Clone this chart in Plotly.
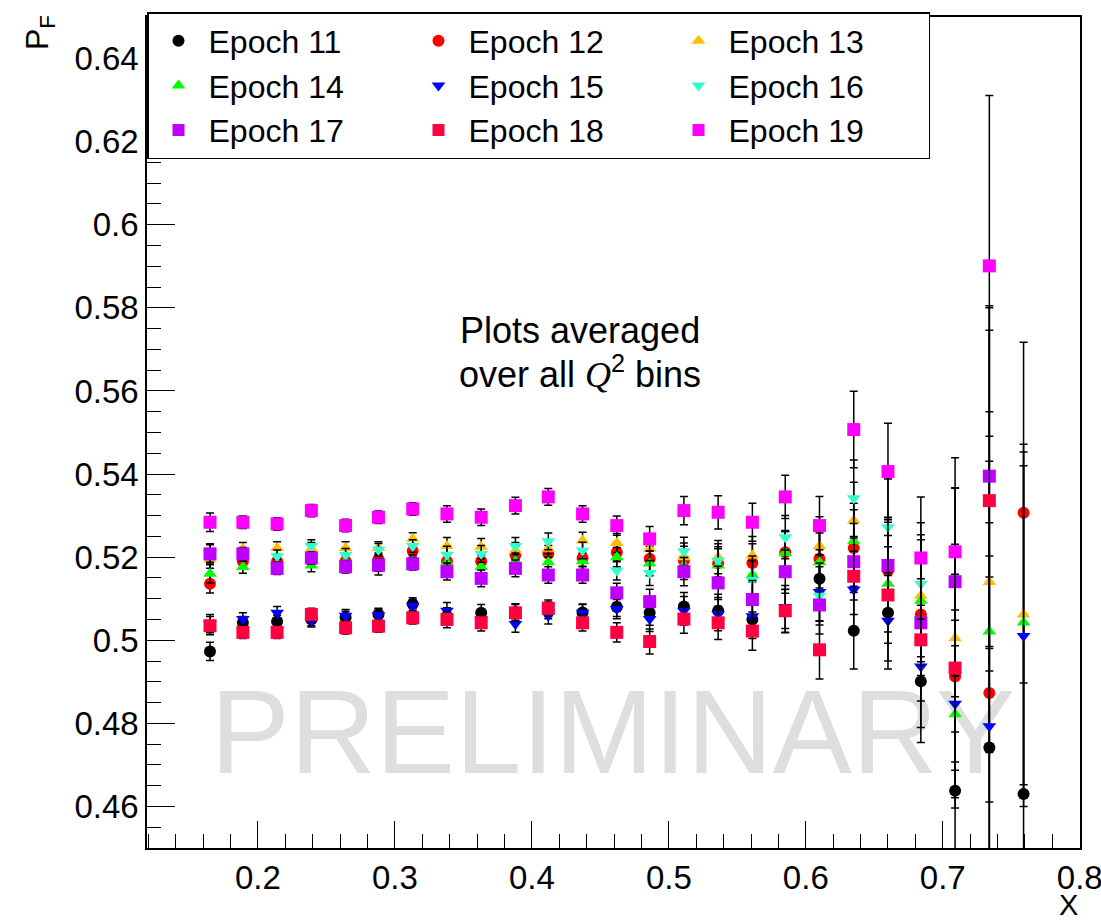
import plotly.graph_objects as go

# ---------------- data ----------------
x_bins = [0.165, 0.189, 0.214, 0.239, 0.264, 0.288, 0.313, 0.338, 0.363, 0.388,
          0.412, 0.437, 0.462, 0.486, 0.511, 0.536, 0.561, 0.585, 0.610, 0.635,
          0.660, 0.684, 0.709, 0.734, 0.759]

errors = [0.0022, 0.0015, 0.0015, 0.0015, 0.0015, 0.0015, 0.0015, 0.002, 0.002, 0.002,
          0.002, 0.002, 0.0023, 0.003, 0.0034, 0.004, 0.0046, 0.0052, 0.007, 0.0092,
          0.0116, 0.0147, 0.0226, 0.041, 0.041]

epoch11 = [0.4973, 0.5042, 0.5045, 0.5050, 0.5055, 0.5062, 0.5087, 0.5058, 0.5066, 0.5068,
           0.5072, 0.5067, 0.5080, 0.5066, 0.5081, 0.5071, 0.5050, 0.5070, 0.5148, 0.5023,
           0.5066, 0.4901, 0.4638, 0.4742, 0.4630]
epoch12 = [0.5136, 0.5190, 0.5190, 0.5200, 0.5190, 0.5195, 0.5215, 0.5190, 0.5190, 0.5206,
           0.5208, 0.5198, 0.5212, 0.5196, 0.5192, 0.5185, 0.5186, 0.5212, 0.5196, 0.5222,
           0.5168, 0.5062, 0.4913, 0.4873, 0.5307]
epoch13 = [0.5195, 0.5220, 0.5222, 0.5220, 0.5222, 0.5222, 0.5244, 0.5227, 0.5225, 0.5215,
           0.5220, 0.5240, 0.5234, 0.5220, 0.5200, 0.5200, 0.5204, 0.5210, 0.5227, 0.5288,
           0.5175, 0.5107, 0.5005, 0.5140, 0.5062]
epoch14 = [0.5160, 0.5176, 0.5180, 0.5180, 0.5190, 0.5172, 0.5190, 0.5188, 0.5176, 0.5190,
           0.5188, 0.5190, 0.5200, 0.5185, 0.5180, 0.5180, 0.5157, 0.5210, 0.5188, 0.5238,
           0.5136, 0.5095, 0.4822, 0.5021, 0.5043]
epoch15 = [0.5040, 0.5051, 0.5066, 0.5047, 0.5059, 0.5060, 0.5083, 0.5071, 0.5050, 0.5039,
           0.5059, 0.5066, 0.5075, 0.5051, 0.5071, 0.5063, 0.5058, 0.5080, 0.5116, 0.5122,
           0.5047, 0.4937, 0.4847, 0.4793, 0.5010]
epoch16 = [0.5210, 0.5205, 0.5202, 0.5227, 0.5206, 0.5218, 0.5227, 0.5206, 0.5208, 0.5227,
           0.5238, 0.5216, 0.5168, 0.5162, 0.5214, 0.5192, 0.5145, 0.5248, 0.5107, 0.5342,
           0.5272, 0.5136, 0.5140, 0.5390, None]
epoch17 = [0.5208, 0.5208, 0.5173, 0.5198, 0.5177, 0.5181, 0.5184, 0.5165, 0.5149, 0.5173,
           0.5157, 0.5157, 0.5114, 0.5093, 0.5165, 0.5138, 0.5098, 0.5165, 0.5085, 0.5189,
           0.5180, 0.5042, 0.5141, 0.5395, None]
epoch18 = [0.5035, 0.5019, 0.5019, 0.5062, 0.5030, 0.5034, 0.5054, 0.5050, 0.5042, 0.5066,
           0.5077, 0.5042, 0.5019, 0.4997, 0.5051, 0.5042, 0.5022, 0.5071, 0.4977, 0.5154,
           0.5109, 0.5001, 0.4933, 0.5336, None]
epoch19 = [0.5284, 0.5284, 0.5280, 0.5312, 0.5276, 0.5296, 0.5316, 0.5304, 0.5296, 0.5324,
           0.5345, 0.5304, 0.5276, 0.5244, 0.5312, 0.5308, 0.5284, 0.5345, 0.5276, 0.5507,
           0.5406, 0.5198, 0.5213, 0.5901, None]

series_names = ["Epoch 11", "Epoch 12", "Epoch 13", "Epoch 14", "Epoch 15",
                "Epoch 16", "Epoch 17", "Epoch 18", "Epoch 19"]
series_values = [epoch11, epoch12, epoch13, epoch14, epoch15,
                 epoch16, epoch17, epoch18, epoch19]

# ---------------- styles ----------------
colors = ["#000000", "#ff0000", "#ffbf00", "#00ff00", "#0000ff",
          "#33ffcc", "#bf00ff", "#ff0040", "#ff00ff"]
symbols = ["circle", "circle", "triangle-up", "triangle-up", "triangle-down",
           "triangle-down", "square", "square", "square"]
sizes = [12, 12, 12, 12, 12, 12, 13, 13, 13]

FONT = "Liberation Sans, Arial, Helvetica, sans-serif"

fig = go.Figure()

# watermark (drawn first so that it sits below the data)
fig.add_trace(go.Scatter(
    x=[0.4591], y=[0.4752], mode="text", text=["PRELIMINARY"],
    textfont=dict(family=FONT, size=119, color="#dedede"),
    showlegend=False, hoverinfo="skip"))

for name, vals, col, sym, sz in zip(series_names, series_values, colors, symbols, sizes):
    xs = [x for x, v in zip(x_bins, vals) if v is not None]
    ys = [v for v in vals if v is not None]
    es = [e for e, v in zip(errors, vals) if v is not None]
    fig.add_trace(go.Scatter(
        x=xs, y=ys, mode="markers", name=name,
        marker=dict(symbol=sym, size=sz, color=col, line=dict(width=0)),
        error_y=dict(type="data", array=es, visible=True, color="black",
                     thickness=1.5, width=4),
    ))

fig.update_layout(
    width=1101, height=921,
    margin=dict(l=147, r=21, t=17, b=73, autoexpand=False),
    paper_bgcolor="white", plot_bgcolor="white",
    font=dict(family=FONT, color="black"),
    showlegend=True,
    legend=dict(
        orientation="h", x=0, y=1.006, xanchor="left", yanchor="top",
        bgcolor="white", bordercolor="black", borderwidth=1.5,
        font=dict(family=FONT, size=32, color="black"),
        entrywidth=195, itemwidth=50, itemsizing="constant", tracegroupgap=0,
    ),
    xaxis=dict(
        range=[0.119, 0.8002], showgrid=False, zeroline=False, automargin=False,
        showline=True, linecolor="black", linewidth=1.5, mirror=True,
        ticks="inside", ticklen=27, tickwidth=1.2, tickcolor="black",
        dtick=0.1, tick0=0, tickfont=dict(family=FONT, size=33),
        ticklabeloverflow="allow",
        minor=dict(ticks="inside", ticklen=14, dtick=0.02, tick0=0, tickcolor="black", tickwidth=1.2),
    ),
    yaxis=dict(
        range=[0.45, 0.65], showgrid=False, zeroline=False, automargin=False,
        showline=True, linecolor="black", linewidth=1.5, mirror=True,
        ticks="inside", ticklen=28, tickwidth=1.2, tickcolor="black",
        dtick=0.02, tick0=0, tickfont=dict(family=FONT, size=33),
        minor=dict(ticks="inside", ticklen=14, dtick=0.005, tick0=0, tickcolor="black", tickwidth=1.2),
    ),
)

fig.add_annotation(
    xref="paper", yref="paper", x=(580 - 147) / 933, y=(848 - 330) / 831,
    xanchor="center", yanchor="middle",
    text="Plots averaged",
    showarrow=False, font=dict(family=FONT, size=36, color="black"))
fig.add_annotation(
    xref="paper", yref="paper", x=(580 - 147) / 933, y=(848 - 372) / 831,
    xanchor="center", yanchor="middle",
    text="over all <span style=\"font-family:'Liberation Serif'\"><i>Q</i></span><sup>2</sup> bins",
    showarrow=False, font=dict(family=FONT, size=36, color="black"))

fig.add_annotation(
    xref="paper", yref="paper", x=(39 - 147) / 933, y=(848 - 33) / 831,
    xanchor="center", yanchor="middle",
    text="P<sub>F</sub>", textangle=-90, showarrow=False,
    font=dict(family=FONT, size=32, color="black"))

fig.add_annotation(
    xref="paper", yref="paper", x=(1068 - 147) / 933, y=(848 - 905) / 831,
    xanchor="center", yanchor="middle",
    text="X", showarrow=False, font=dict(family=FONT, size=29, color="black"))

fig.write_html("out.html")
